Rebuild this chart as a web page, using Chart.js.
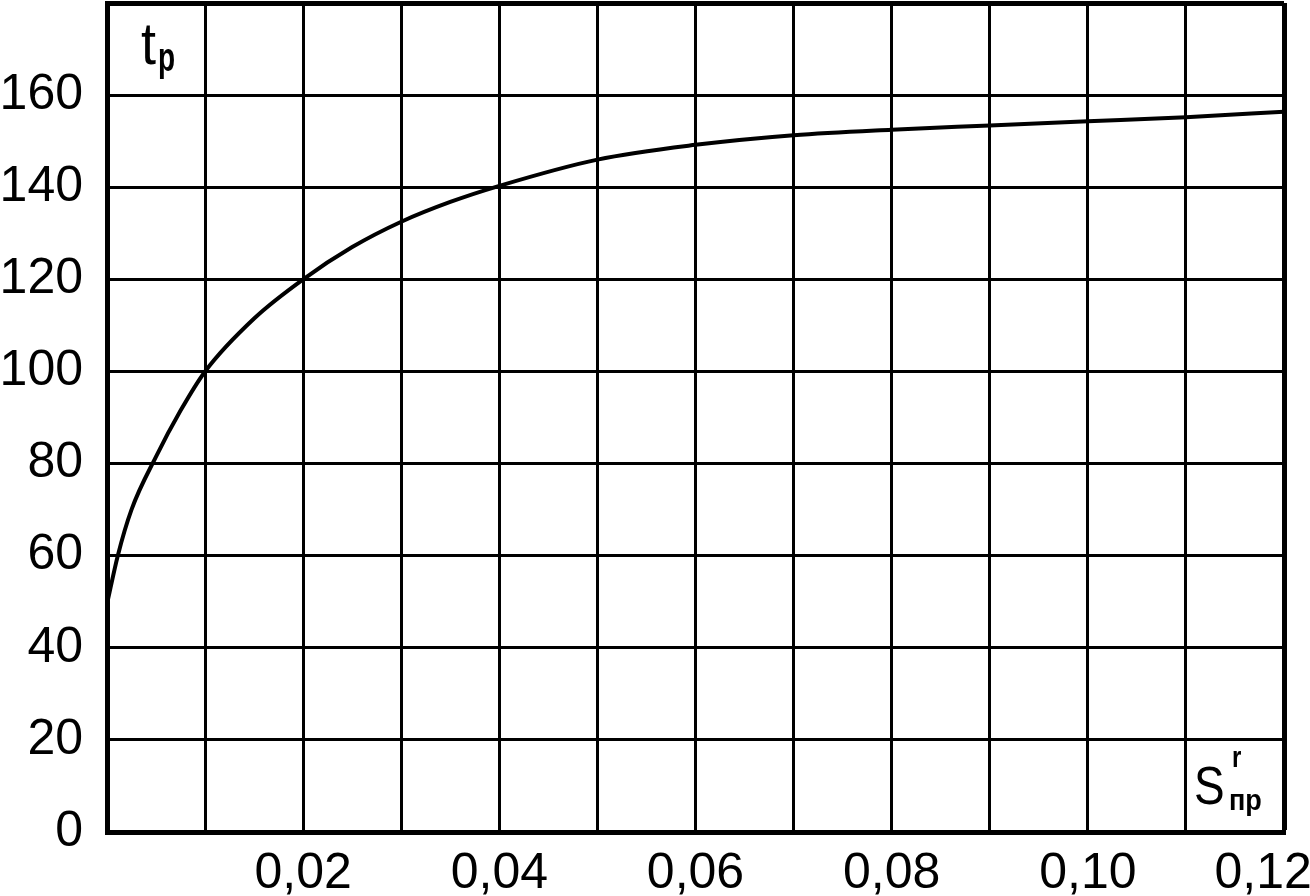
<!DOCTYPE html>
<html>
<head>
<meta charset="utf-8">
<title>t_p от S_пр</title>
<script src="https://cdn.jsdelivr.net/npm/chart.js@4/dist/chart.umd.min.js"></script>
<style>
    body { margin: 0; background: #fff; }
    canvas { display: block; }
</style>
</head>
<body>
<canvas id="myChart" width="1310" height="896"></canvas>
<script>

// S_пр (x) и t_p (y)
var sPr = [0, 0.0011, 0.0025, 0.005, 0.0075, 0.01, 0.015, 0.02, 0.025, 0.03, 0.035, 0.04, 0.05, 0.06, 0.07, 0.08, 0.09, 0.10, 0.11, 0.12];
var tP = [49.5, 60, 70, 81.5, 91.5, 100, 111.5, 120, 127, 132.5, 136.8, 140.3, 146.0, 149.2, 151.3, 152.5, 153.4, 154.3, 155.2, 156.4];

var xTickLabels = ['', '', '0,02', '', '0,04', '', '0,06', '', '0,08', '', '0,10', '', '0,12   '];
var yTickLabels = ['0', '20', '40', '60', '80', '100', '120', '140', '160', ''];

var fuente = '"Liberation Sans", Arial, sans-serif';

function procesaData() {

    var puntos = [];
    for (var i = 0; i < sPr.length; i++) {
        puntos.push({ x: sPr[i], y: tP[i] });
    }

    // подписи осей t_p и S_пр^r
    var letrasEjes = {
        id: 'letrasEjes',
        afterDraw: function (chart) {
            var ctx = chart.ctx;
            var a = chart.chartArea;
            ctx.save();
            ctx.fillStyle = '#000';
            ctx.textBaseline = 'alphabetic';
            ctx.textAlign = 'left';

            function texto(str, x, y, font, sx) {
                ctx.save();
                ctx.font = font;
                ctx.translate(x, y);
                ctx.scale(sx, 1);
                ctx.fillText(str, 0, 0);
                ctx.restore();
            }

            texto('t', a.left + 34, a.top + 61, '60px ' + fuente, 0.9);
            texto('p', a.left + 51, a.top + 68, 'bold 40px ' + fuente, 0.7);

            texto('S', a.right - 90, a.bottom - 28, '54px ' + fuente, 0.85);
            texto('r', a.right - 52, a.bottom - 65, 'bold 30px ' + fuente, 0.8);
            texto('пр', a.right - 55, a.bottom - 22, 'bold 30px ' + fuente, 0.9);
            ctx.restore();
        }
    };

    var ctx = document.getElementById('myChart');

    new Chart(ctx, {
        type: 'line',
        data: {
            datasets: [{
                label: 't_p',
                data: puntos,
                borderColor: '#000',
                borderWidth: 4,
                pointRadius: 0,
                fill: false,
                cubicInterpolationMode: 'monotone'
            }]
        },
        options: {
            responsive: false,
            animation: false,
            layout: {
                padding: { top: 3, right: 26, bottom: 0, left: 0 }
            },
            plugins: {
                legend: { display: false },
                tooltip: { enabled: false }
            },
            scales: {
                x: {
                    type: 'linear',
                    min: 0,
                    max: 0.12,
                    afterFit: function (scale) {
                        scale.height = 64;
                        scale.paddingLeft = 0;
                        scale.paddingRight = 0;
                    },
                    border: { display: true, width: 5, color: '#000' },
                    grid: {
                        color: '#000',
                        drawTicks: false,
                        lineWidth: function (c) {
                            return c.index === 12 ? 5 : 3;
                        }
                    },
                    ticks: {
                        stepSize: 0.01,
                        color: '#000',
                        padding: 12,
                        maxRotation: 0,
                        autoSkip: false,
                        font: { family: fuente, size: 50 },
                        callback: function (value, index) {
                            return xTickLabels[index];
                        }
                    }
                },
                y: {
                    min: 0,
                    max: 180,
                    afterFit: function (scale) {
                        scale.width = 107;
                        scale.paddingTop = 0;
                        scale.paddingBottom = 0;
                    },
                    border: { display: true, width: 5, color: '#000' },
                    grid: {
                        color: '#000',
                        drawTicks: false,
                        lineWidth: function (c) {
                            return c.index === 9 ? 5 : 3;
                        }
                    },
                    ticks: {
                        stepSize: 20,
                        color: '#000',
                        padding: 24,
                        font: { family: fuente, size: 50 },
                        callback: function (value, index) {
                            return yTickLabels[index];
                        }
                    }
                }
            }
        },
        plugins: [letrasEjes]
    });

}

procesaData();
</script>
</body>
</html>
